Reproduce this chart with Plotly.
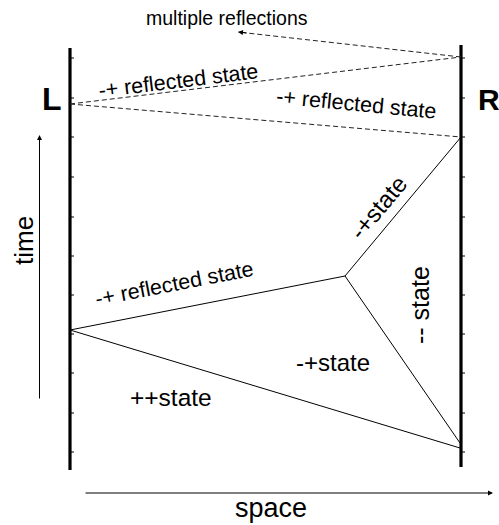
import plotly.graph_objects as go

# ---- diagram geometry (pixel space: x to the right, y downward) ----
wall_x = [70, 461]                 # L wall, R wall
wall_top = [48, 45]
wall_bottom = [470, 467]
tick_y = [58, 98, 137, 177, 217, 256, 295, 334, 373, 413, 452]

# solid characteristic lines
solid_x = [[70, 345], [345, 461], [345, 460], [70, 460]]
solid_y = [[330, 276], [276, 137], [276, 443], [330, 448]]

# dashed reflected lines
dash_x = [[70, 461], [70, 461], [461, 238]]
dash_y = [[104, 57], [104, 137], [57, 32]]

# labels
label_text = ["multiple reflections", "-+ reflected state", "-+ reflected state",
              "-+ reflected state", "-+state", "-- state", "-+state", "++state"]
label_x = [227, 178, 356, 174, 378, 420, 333, 171]
label_y = [18, 81, 104, 284, 207, 305, 362, 397.5]
label_angle = [0, -7, 5.5, -11, -50, -90, 0, 0]
label_size = [19.5, 21.5, 21.5, 21.5, 24, 25, 24, 24.5]

FONT = "Liberation Sans, Arial, sans-serif"

fig = go.Figure()

# walls
for i in range(2):
    fig.add_trace(go.Scatter(x=[wall_x[i], wall_x[i]], y=[wall_top[i], wall_bottom[i]],
                             mode="lines", line=dict(color="black", width=3.2),
                             hoverinfo="skip", showlegend=False))
    # small ticks on the right side of each wall
    tx, ty = [], []
    for t in tick_y:
        tx += [wall_x[i], wall_x[i] + 4, None]
        ty += [t, t, None]
    fig.add_trace(go.Scatter(x=tx, y=ty, mode="lines", line=dict(color="black", width=1),
                             hoverinfo="skip", showlegend=False))

for xs, ys in zip(solid_x, solid_y):
    fig.add_trace(go.Scatter(x=xs, y=ys, mode="lines", line=dict(color="black", width=1),
                             hoverinfo="skip", showlegend=False))

for xs, ys in zip(dash_x, dash_y):
    fig.add_trace(go.Scatter(x=xs, y=ys, mode="lines",
                             line=dict(color="#222", width=1, dash="5px,3px"),
                             hoverinfo="skip", showlegend=False))

ann = []
for t, x, y, a, s in zip(label_text, label_x, label_y, label_angle, label_size):
    ann.append(dict(text=t, x=x, y=y, xref="x", yref="y", showarrow=False,
                    textangle=a, xanchor="center", yanchor="middle",
                    font=dict(family=FONT, size=s, color="black")))

# wall letters
ann.append(dict(text="<b>L</b>", x=52, y=99, xref="x", yref="y", showarrow=False,
                font=dict(family=FONT, size=32, color="black")))
ann.append(dict(text="<b>R</b>", x=489, y=99, xref="x", yref="y", showarrow=False,
                font=dict(family=FONT, size=30, color="black")))

# axis labels
ann.append(dict(text="time", x=24, y=241, xref="x", yref="y", showarrow=False, textangle=-90,
                font=dict(family=FONT, size=26, color="black")))
ann.append(dict(text="space", x=271, y=508, xref="x", yref="y", showarrow=False,
                font=dict(family=FONT, size=27, color="black")))

# arrows
ann.append(dict(x=39.5, y=135, ax=39.5, ay=400, xref="x", yref="y", axref="x", ayref="y",
                text="", showarrow=True, arrowhead=2, arrowsize=1, arrowwidth=1, arrowcolor="black"))
ann.append(dict(x=493, y=493, ax=84, ay=493, xref="x", yref="y", axref="x", ayref="y",
                text="", showarrow=True, arrowhead=2, arrowsize=1, arrowwidth=1, arrowcolor="black"))
ann.append(dict(x=dash_x[2][1], y=dash_y[2][1], ax=dash_x[2][1] + 10, ay=dash_y[2][1] + 1.1,
                xref="x", yref="y", axref="x", ayref="y",
                text="", showarrow=True, arrowhead=2, arrowsize=1, arrowwidth=1, arrowcolor="black"))

fig.update_layout(
    width=499, height=525,
    margin=dict(l=0, r=0, t=0, b=0),
    paper_bgcolor="white", plot_bgcolor="white",
    xaxis=dict(range=[0, 499], visible=False, fixedrange=True),
    yaxis=dict(range=[525, 0], visible=False, fixedrange=True),
    annotations=ann,
    showlegend=False,
)

fig.write_html("out.html", config={"displayModeBar": False},
               post_script="document.body.style.margin='0';document.body.style.overflow='hidden';")
